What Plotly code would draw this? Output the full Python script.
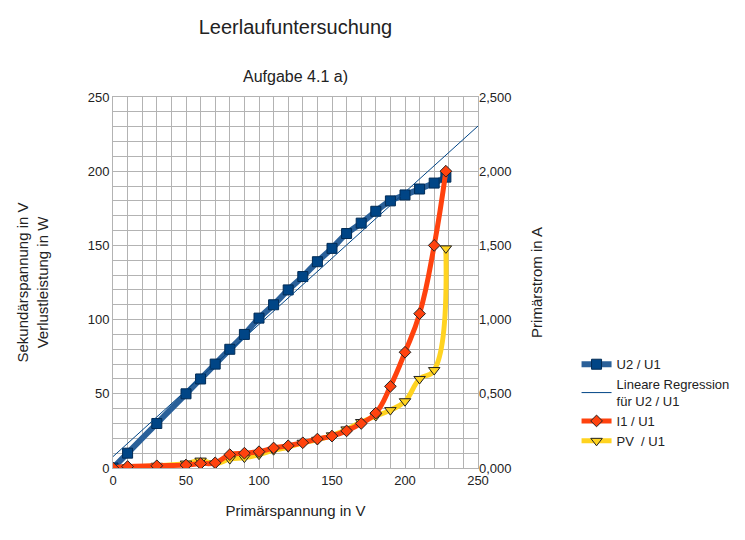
import numpy as np
import plotly.graph_objects as go

U1 = [0,10,30,50,60,70,80,90,100,110,120,130,140,150,160,170,180,190,200,210,220,228]
U2 = [0,10,30,50,60,70,80,90,101,110,120,129,139,148,158,165,173,180,184,188,192,196]
I1 = [0.0,0.01,0.015,0.02,0.03,0.035,0.09,0.10,0.11,0.135,0.15,0.17,0.195,0.215,0.25,0.30,0.37,0.55,0.78,1.04,1.50,2.00]
PV = [0,0.5,1.5,3,5,3,6,7,9,12,14,17,19,22,26,31,35,39,45,60,66,148]

slope, icpt = np.polyfit(U1, U2, 1)
xr = np.array([0, 250])
yr = slope * xr + icpt

fig = go.Figure()
fig.add_trace(go.Scatter(x=U1, y=U2, name="U2 / U1", mode="lines+markers",
    line=dict(color="#2a6099", width=6, shape="spline"),
    marker=dict(symbol="square", size=10, color="#004586", line=dict(color="#002b55", width=1))))
fig.add_trace(go.Scatter(x=xr, y=yr, name="Lineare Regression<br>für U2 / U1", mode="lines",
    line=dict(color="#004586", width=1)))
fig.add_trace(go.Scatter(x=U1, y=I1, name="I1 / U1", mode="lines+markers", yaxis="y2",
    line=dict(color="#ff420e", width=5, shape="spline", smoothing=1.3),
    marker=dict(symbol="diamond", size=9, color="#ff420e", line=dict(color="#222", width=1))))
fig.add_trace(go.Scatter(x=U1, y=PV, name="PV  / U1", mode="lines+markers",
    line=dict(color="#ffd320", width=5, shape="spline", smoothing=1.3),
    marker=dict(symbol="triangle-down", size=10, color="#ffd320", line=dict(color="#222", width=1))))

ax = dict(showline=True, linecolor="#b3b3b3", mirror=True, gridcolor="#b3b3b3", ticks="",
          zeroline=False, tickfont=dict(size=13, color="#222"), automargin=False,
          minor=dict(dtick=10, showgrid=True, gridcolor="#b3b3b3"))
fig.update_layout(
    width=745, height=540, plot_bgcolor="white", paper_bgcolor="white",
    font=dict(family="Liberation Sans, Arial", color="#222"),
    separators=",.",
    margin=dict(l=105, r=275, t=89, b=80),
    title=dict(text="Leerlaufuntersuchung", x=0.5, xref="paper", y=0.965, yanchor="middle",
               font=dict(size=20)),
    annotations=[dict(text="Aufgabe 4.1 a)", x=0.5, xref="paper", y=1.084, yref="paper",
                      showarrow=False, font=dict(size=16))],
    xaxis=dict(ax, range=[0, 250], dtick=50,
               title=dict(text="Primärspannung in V", font=dict(size=15), standoff=18)),
    yaxis=dict(ax, range=[0, 250], dtick=50,
               title=dict(text="Sekundärspannung in V<br>Verlustleistung in W", font=dict(size=15), standoff=35)),
    yaxis2=dict(overlaying="y", side="right", range=[0, 2.5], dtick=0.5, tickformat=".3f",
                showgrid=False, zeroline=False, tickfont=dict(size=13, color="#222"), automargin=False,
                title=dict(text="Primärstrom in A", font=dict(size=15), standoff=20)),
    legend=dict(x=1.27, y=0.32, xanchor="left", yanchor="top", font=dict(size=13),
                tracegroupgap=2, bgcolor="rgba(0,0,0,0)"),
    showlegend=True,
)
fig.write_html("out.html")
